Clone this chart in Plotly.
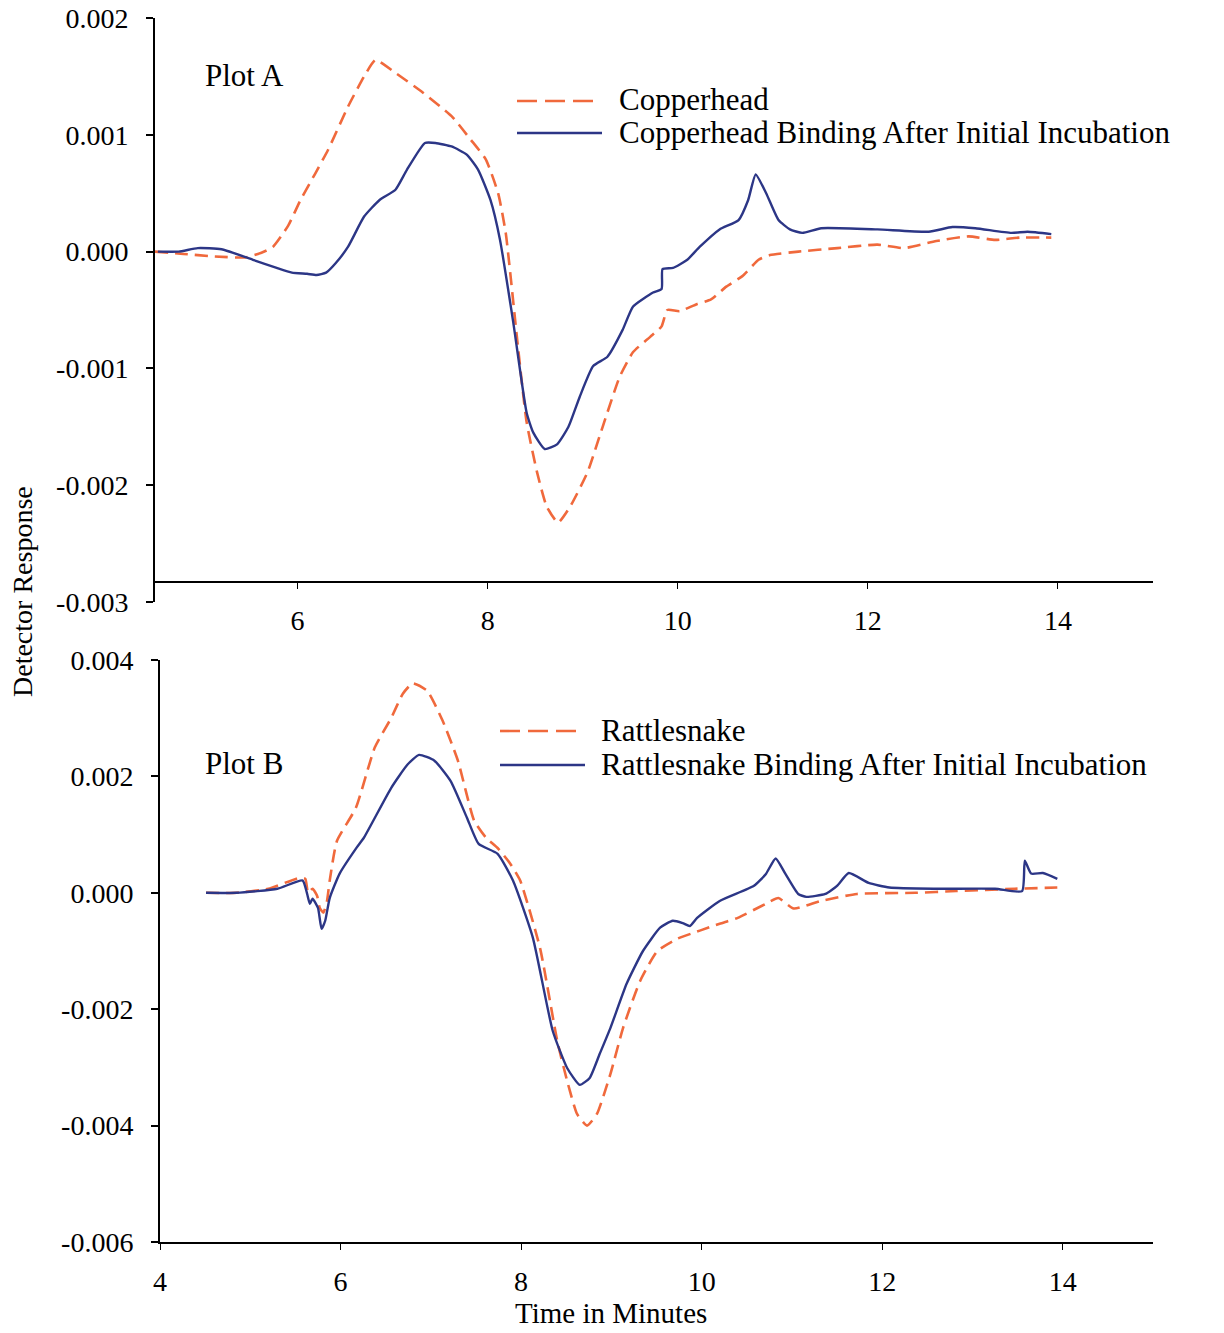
import plotly.graph_objects as go

# ---------------- data ----------------
# Plot A - Copperhead
cop_x = [4.50, 4.80, 5.10, 5.45, 5.62, 5.74, 5.90, 6.03, 6.18, 6.32,
         6.53, 6.70, 6.82, 7.03, 7.32, 7.62, 7.82, 7.98, 8.11, 8.19,
         8.31, 8.41, 8.52, 8.62, 8.74, 8.87, 9.05, 9.21, 9.39, 9.53,
         9.71, 9.83, 9.89, 10.02, 10.20, 10.35, 10.51, 10.68, 10.85, 10.97,
         11.27, 11.68, 12.10, 12.38, 12.72, 13.06, 13.34, 13.60, 13.93]
cop_y = [0.0, -0.02e-3, -0.04e-3, -0.05e-3, -0.01e-3, 0.04e-3, 0.22e-3, 0.44e-3, 0.66e-3, 0.87e-3,
         1.24e-3, 1.50e-3, 1.64e-3, 1.53e-3, 1.36e-3, 1.16e-3, 0.96e-3, 0.79e-3, 0.50e-3, 0.16e-3,
         -0.75e-3, -1.46e-3, -1.89e-3, -2.18e-3, -2.32e-3, -2.18e-3, -1.89e-3, -1.50e-3, -1.07e-3, -0.86e-3,
         -0.73e-3, -0.64e-3, -0.50e-3, -0.51e-3, -0.45e-3, -0.41e-3, -0.30e-3, -0.21e-3, -0.07e-3, -0.03e-3,
         0.0, 0.03e-3, 0.06e-3, 0.03e-3, 0.09e-3, 0.13e-3, 0.10e-3, 0.12e-3, 0.12e-3]

# Plot A - Copperhead Binding After Initial Incubation
copb_x = [4.53, 4.75, 4.95, 5.20, 5.53, 5.78, 5.94, 6.10, 6.20, 6.30,
          6.40, 6.53, 6.70, 6.86, 7.03, 7.15, 7.34, 7.45, 7.62, 7.78,
          7.90, 8.03, 8.13, 8.27, 8.41, 8.48, 8.60, 8.73, 8.85, 8.97,
          9.11, 9.26, 9.42, 9.53, 9.74, 9.83, 9.84, 9.95, 10.10, 10.23,
          10.44, 10.64, 10.74, 10.82, 10.93, 11.06, 11.18, 11.31, 11.51, 12.10,
          12.64, 12.89, 13.13, 13.51, 13.68, 13.93]
copb_y = [0.0, 0.0, 0.03e-3, 0.02e-3, -0.07e-3, -0.14e-3, -0.18e-3, -0.19e-3, -0.20e-3, -0.18e-3,
          -0.10e-3, 0.04e-3, 0.30e-3, 0.44e-3, 0.53e-3, 0.70e-3, 0.93e-3, 0.93e-3, 0.90e-3, 0.83e-3,
          0.70e-3, 0.44e-3, 0.10e-3, -0.61e-3, -1.38e-3, -1.55e-3, -1.69e-3, -1.65e-3, -1.50e-3, -1.24e-3,
          -0.98e-3, -0.90e-3, -0.67e-3, -0.47e-3, -0.35e-3, -0.32e-3, -0.15e-3, -0.14e-3, -0.07e-3, 0.04e-3,
          0.19e-3, 0.27e-3, 0.44e-3, 0.66e-3, 0.50e-3, 0.27e-3, 0.19e-3, 0.16e-3, 0.20e-3, 0.19e-3,
          0.17e-3, 0.21e-3, 0.20e-3, 0.16e-3, 0.17e-3, 0.15e-3]

# Plot B - Rattlesnake
rat_x = [4.51, 4.85, 5.20, 5.55, 5.61, 5.64, 5.69, 5.74, 5.77, 5.81,
         5.85, 5.88, 5.96, 6.17, 6.38, 6.56, 6.69, 6.80, 6.96, 7.13,
         7.30, 7.48, 7.61, 7.74, 7.88, 7.99, 8.21, 8.40, 8.51, 8.62,
         8.73, 8.84, 8.99, 9.13, 9.32, 9.51, 9.73, 9.98, 10.20, 10.40,
         10.71, 10.85, 11.02, 11.32, 11.72, 12.37, 12.82, 13.47, 13.94]
rat_y = [0.0, 0.0, 0.07e-3, 0.26e-3, 0.24e-3, 0.0, 0.07e-3, -0.05e-3, -0.26e-3, -0.34e-3,
         -0.14e-3, 0.21e-3, 0.89e-3, 1.46e-3, 2.50e-3, 3.00e-3, 3.42e-3, 3.60e-3, 3.47e-3, 2.96e-3,
         2.27e-3, 1.24e-3, 0.95e-3, 0.77e-3, 0.50e-3, 0.21e-3, -0.95e-3, -2.54e-3, -3.23e-3, -3.80e-3,
         -4.00e-3, -3.80e-3, -3.11e-3, -2.32e-3, -1.51e-3, -1.00e-3, -0.79e-3, -0.65e-3, -0.53e-3, -0.43e-3,
         -0.19e-3, -0.09e-3, -0.27e-3, -0.14e-3, -0.02e-3, 0.0, 0.03e-3, 0.07e-3, 0.09e-3]

# Plot B - Rattlesnake Binding After Initial Incubation
ratb_x = [4.51, 4.85, 5.30, 5.58, 5.63, 5.66, 5.69, 5.75, 5.79, 5.83,
          5.88, 5.99, 6.18, 6.26, 6.56, 6.74, 6.87, 7.04, 7.22, 7.40,
          7.53, 7.74, 7.91, 8.13, 8.35, 8.51, 8.65, 8.76, 8.87, 8.99,
          9.17, 9.35, 9.54, 9.68, 9.79, 9.87, 9.95, 10.20, 10.58, 10.71,
          10.82, 10.93, 11.07, 11.16, 11.37, 11.50, 11.63, 11.85, 12.08, 12.60,
          13.25, 13.55, 13.58, 13.65, 13.78, 13.94]
ratb_y = [0.0, 0.0, 0.07e-3, 0.21e-3, -0.02e-3, -0.19e-3, -0.10e-3, -0.26e-3, -0.62e-3, -0.48e-3,
          -0.09e-3, 0.33e-3, 0.78e-3, 0.95e-3, 1.80e-3, 2.20e-3, 2.37e-3, 2.27e-3, 1.92e-3, 1.29e-3,
          0.84e-3, 0.67e-3, 0.21e-3, -0.77e-3, -2.37e-3, -3.01e-3, -3.30e-3, -3.18e-3, -2.77e-3, -2.32e-3,
          -1.56e-3, -1.00e-3, -0.60e-3, -0.48e-3, -0.52e-3, -0.57e-3, -0.43e-3, -0.14e-3, 0.12e-3, 0.32e-3,
          0.59e-3, 0.32e-3, -0.02e-3, -0.07e-3, -0.02e-3, 0.12e-3, 0.34e-3, 0.17e-3, 0.09e-3, 0.07e-3,
          0.07e-3, 0.03e-3, 0.55e-3, 0.33e-3, 0.34e-3, 0.24e-3]

# Tick labels
xticks_a = [6, 8, 10, 12, 14]
xticks_b = [4, 6, 8, 10, 12, 14]
yticks_a = [0.002, 0.001, 0.0, -0.001, -0.002, -0.003]
yticklabels_a = ["0.002", "0.001", "0.000", "-0.001", "-0.002", "-0.003"]
yticks_b = [0.004, 0.002, 0.0, -0.002, -0.004, -0.006]
yticklabels_b = ["0.004", "0.002", "0.000", "-0.002", "-0.004", "-0.006"]

names_a = ["Copperhead", "Copperhead Binding After Initial Incubation"]
names_b = ["Rattlesnake", "Rattlesnake Binding After Initial Incubation"]

# ---------------- styling ----------------
W, H = 1224, 1333
ORANGE = "#F0693C"
NAVY = "#2C3686"
FONT = "Liberation Serif, Times New Roman, serif"
DASH = "13px,7px"


def px(x):
    return x / W


def py(y):
    return 1 - y / H


fig = go.Figure()

smooth = 0.5
fig.add_trace(go.Scatter(x=cop_x, y=cop_y, mode="lines", name=names_a[0],
                         line=dict(color=ORANGE, width=2.6, dash=DASH, shape="spline", smoothing=smooth),
                         xaxis="x", yaxis="y", showlegend=False))
fig.add_trace(go.Scatter(x=copb_x, y=copb_y, mode="lines", name=names_a[1],
                         line=dict(color=NAVY, width=2.4, shape="spline", smoothing=smooth),
                         xaxis="x", yaxis="y", showlegend=False))
fig.add_trace(go.Scatter(x=rat_x, y=rat_y, mode="lines", name=names_b[0],
                         line=dict(color=ORANGE, width=2.6, dash=DASH, shape="spline", smoothing=smooth),
                         xaxis="x2", yaxis="y2", showlegend=False))
fig.add_trace(go.Scatter(x=ratb_x, y=ratb_y, mode="lines", name=names_b[1],
                         line=dict(color=NAVY, width=2.4, shape="spline", smoothing=smooth),
                         xaxis="x2", yaxis="y2", showlegend=False))

tickfont = dict(family=FONT, size=28, color="black")
common_x = dict(showline=True, linecolor="black", linewidth=1.5, ticks="outside",
                ticklen=6, tickcolor="black", showgrid=False, zeroline=False,
                tickfont=tickfont, ticklabelstandoff=8, automargin=False)
common_y = dict(showline=True, linecolor="black", linewidth=2, ticks="outside",
                ticklen=7, tickcolor="black", tickwidth=1.5, showgrid=False,
                zeroline=False, tickfont=tickfont, ticklabelstandoff=12, automargin=False)

fig.update_layout(
    width=W, height=H,
    margin=dict(l=0, r=0, t=0, b=0, autoexpand=False),
    paper_bgcolor="white", plot_bgcolor="white",
    showlegend=False,
    xaxis=dict(domain=[px(155), px(1153)], range=[4.5, 15], anchor="free",
               position=py(582), tickvals=xticks_a, **common_x),
    yaxis=dict(domain=[py(602), py(18)], range=[-0.003, 0.002], anchor="x",
               tickvals=yticks_a, ticktext=yticklabels_a, **common_y),
    xaxis2=dict(domain=[px(160), px(1153)], range=[4, 15], anchor="y2",
                tickvals=xticks_b, **common_x),
    yaxis2=dict(domain=[py(1242), py(660)], range=[-0.006, 0.004], anchor="x2",
                tickvals=yticks_b, ticktext=yticklabels_b, **common_y),
)

annots = []
shapes = []
txtfont = dict(family=FONT, size=31, color="black")

# Panel labels
annots.append(dict(x=px(244), y=py(75), xref="paper", yref="paper", text="Plot A",
                   showarrow=False, font=txtfont, xanchor="center", yanchor="middle"))
annots.append(dict(x=px(244), y=py(763), xref="paper", yref="paper", text="Plot B",
                   showarrow=False, font=txtfont, xanchor="center", yanchor="middle"))

# Manual legends
legend_specs = [
    (517, 597, 101, 617, names_a[0], ORANGE, "20px,8px"),
    (517, 602, 133, 617, names_a[1], NAVY, "solid"),
    (500, 580, 731, 599, names_b[0], ORANGE, "20px,8px"),
    (500, 585, 765, 599, names_b[1], NAVY, "solid"),
]
for x0, x1, yy, tx, name, col, dash in legend_specs:
    shapes.append(dict(type="line", xref="paper", yref="paper", x0=px(x0), x1=px(x1),
                       y0=py(yy), y1=py(yy), line=dict(color=col, width=2.6, dash=dash)))
    annots.append(dict(x=px(tx), y=py(yy - 1), xref="paper", yref="paper", text=name,
                       showarrow=False, font=txtfont, xanchor="left", yanchor="middle"))

# Axis titles
annots.append(dict(x=px(22), y=py(592), xref="paper", yref="paper", text="Detector Response",
                   showarrow=False, font=dict(family=FONT, size=28, color="black"),
                   textangle=-90, xanchor="center", yanchor="middle"))
annots.append(dict(x=px(611), y=py(1313), xref="paper", yref="paper", text="Time in Minutes",
                   showarrow=False, font=dict(family=FONT, size=29, color="black"),
                   xanchor="center", yanchor="middle"))

fig.update_layout(annotations=annots, shapes=shapes)

fig.write_html("out.html")
